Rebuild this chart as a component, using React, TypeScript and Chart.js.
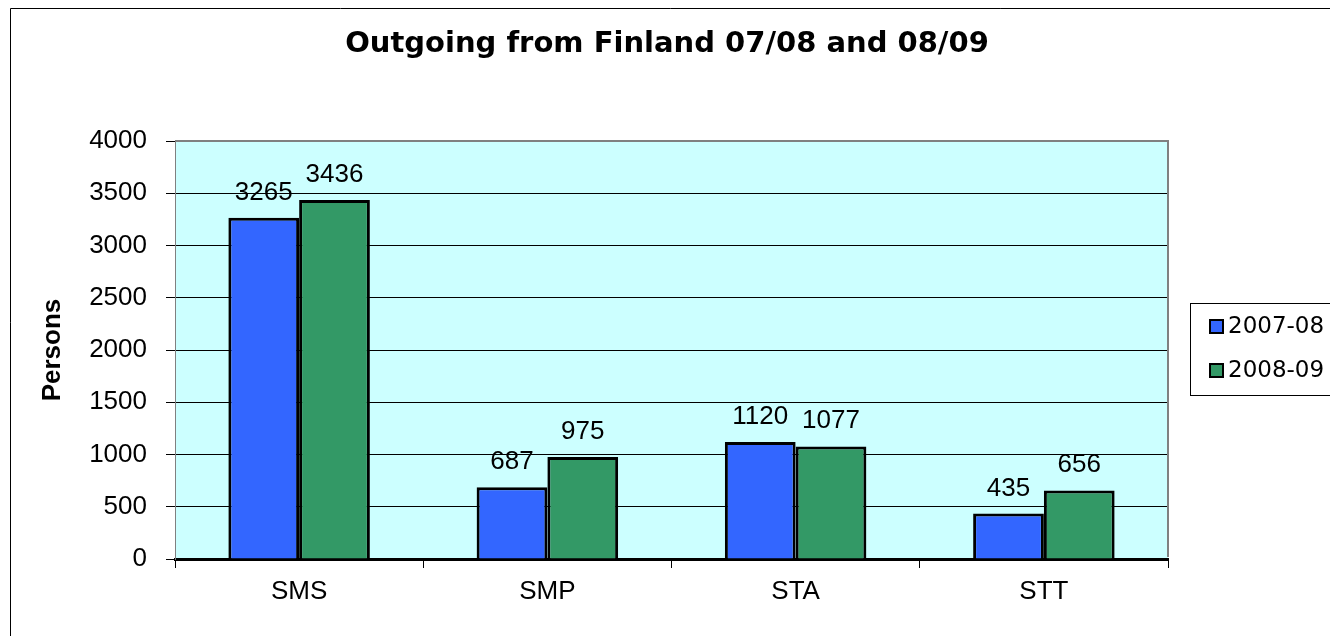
import React, { useEffect, useRef } from "react";
import { Chart, registerables } from "chart.js";

Chart.register(...registerables);

const chartTitle = "Outgoing from Finland 07/08 and 08/09";
const yAxisTitle = "Persons";
const categories = ["SMS", "SMP", "STA", "STT"];
const seriesLabels = ["2007-08", "2008-09"];
const values2007 = [3265, 687, 1120, 435];
const values2008 = [3436, 975, 1077, 656];
const seriesColors = ["#3366FF", "#339966"];
const yMin = 0;
const yMax = 4000;
const yStep = 500;

const sans = "'Liberation Sans', Arial, sans-serif";
const wide = "'DejaVu Sans', sans-serif";

const decorPlugin = {
  id: "decor",
  beforeDraw(chart: any) {
    const { ctx, chartArea, width, height } = chart;
    ctx.save();
    ctx.fillStyle = "#ffffff";
    ctx.fillRect(0, 0, width, height);
    // outer frame
    ctx.strokeStyle = "#000000";
    ctx.lineWidth = 1;
    ctx.beginPath();
    ctx.moveTo(10.5, height + 5);
    ctx.lineTo(10.5, 8.5);
    ctx.lineTo(width + 5, 8.5);
    ctx.stroke();
    // plot background
    ctx.fillStyle = "#CCFFFF";
    ctx.fillRect(chartArea.left, chartArea.top, chartArea.right - chartArea.left, chartArea.bottom - chartArea.top);
    // title
    ctx.fillStyle = "#000000";
    ctx.font = `bold 29px ${wide}`;
    ctx.textAlign = "center";
    ctx.textBaseline = "middle";
    ctx.fillText(chartTitle, 667, 44);
    ctx.restore();
  },
  afterDatasetsDraw(chart: any) {
    const { ctx } = chart;
    ctx.save();
    ctx.fillStyle = "#000000";
    ctx.font = `26px ${sans}`;
    ctx.textAlign = "center";
    ctx.textBaseline = "alphabetic";
    chart.data.datasets.forEach((ds: any, di: number) => {
      const meta = chart.getDatasetMeta(di);
      meta.data.forEach((el: any, i: number) => {
        ctx.fillText(String(ds.data[i]), el.x, el.y - 18);
      });
    });
    ctx.restore();
  },
  afterDraw(chart: any) {
    const { ctx, chartArea } = chart;
    ctx.save();
    // gray plot frame (top & right)
    ctx.strokeStyle = "#808080";
    ctx.lineWidth = 2;
    ctx.beginPath();
    ctx.moveTo(chartArea.left, chartArea.top);
    ctx.lineTo(chartArea.right, chartArea.top);
    ctx.lineTo(chartArea.right, chartArea.bottom - 2);
    ctx.stroke();
    // legend
    ctx.strokeStyle = "#000000";
    ctx.lineWidth = 1;
    ctx.strokeRect(1190.5, 303.5, 200, 92);
    const ys = [327, 371];
    chart.data.datasets.forEach((ds: any, i: number) => {
      const y = ys[i];
      ctx.fillStyle = ds.backgroundColor;
      ctx.fillRect(1210, y - 7, 13, 13);
      ctx.lineWidth = 2;
      ctx.strokeStyle = "#000000";
      ctx.strokeRect(1210, y - 7, 13, 13);
      ctx.fillStyle = "#000000";
      ctx.font = `23px ${wide}`;
      ctx.textAlign = "left";
      ctx.textBaseline = "middle";
      ctx.fillText(ds.label, 1228, y);
    });
    ctx.restore();
  },
};

export default function App() {
  const canvasRef = useRef<HTMLCanvasElement | null>(null);

  useEffect(() => {
    if (!canvasRef.current) return;
    const chart = new Chart(canvasRef.current, {
      type: "bar",
      data: {
        labels: categories,
        datasets: [
          {
            label: seriesLabels[0],
            data: values2007,
            backgroundColor: seriesColors[0],
            borderColor: "#000000",
            borderWidth: 3,
            borderSkipped: "start",
            categoryPercentage: 0.57,
            barPercentage: 1,
          },
          {
            label: seriesLabels[1],
            data: values2008,
            backgroundColor: seriesColors[1],
            borderColor: "#000000",
            borderWidth: 3,
            borderSkipped: "start",
            categoryPercentage: 0.57,
            barPercentage: 1,
          },
        ],
      },
      options: {
        responsive: false,
        animation: false,
        events: [],
        layout: { padding: { top: 141, left: 0, right: 162, bottom: 0 } },
        plugins: {
          legend: { display: false },
          tooltip: { enabled: false },
          title: { display: false },
        },
        scales: {
          x: {
            z: 1,
            ticks: { color: "#000000", font: { family: sans, size: 26 }, padding: 8, maxRotation: 0 },
            grid: { display: true, drawOnChartArea: false, drawTicks: true, tickLength: 9, color: "#000000", lineWidth: 1, offset: true },
            border: { display: true, color: "#000000", width: 3 },
            afterFit: (s: any) => {
              s.height = 77;
            },
          },
          y: {
            min: yMin,
            max: yMax,
            ticks: {
              stepSize: yStep,
              color: "#000000",
              font: { family: sans, size: 26 },
              padding: 19,
              callback: (v: any) => String(v),
            },
            grid: { color: "#000000", lineWidth: 1, tickLength: 9, drawTicks: true },
            border: { display: true, color: "#808080", width: 1 },
            title: {
              display: true,
              text: yAxisTitle,
              color: "#000000",
              font: { family: sans, size: 26, weight: "bold" },
              padding: { top: 37, bottom: 0 },
            },
            afterFit: (s: any) => {
              s.width = 175;
            },
          },
        },
      },
      plugins: [decorPlugin],
    });
    return () => chart.destroy();
  }, []);

  return (
    <div style={{ position: "absolute", left: 0, top: 0, width: 1330, height: 636 }}>
      <canvas ref={canvasRef} width={1330} height={636} />
    </div>
  );
}
